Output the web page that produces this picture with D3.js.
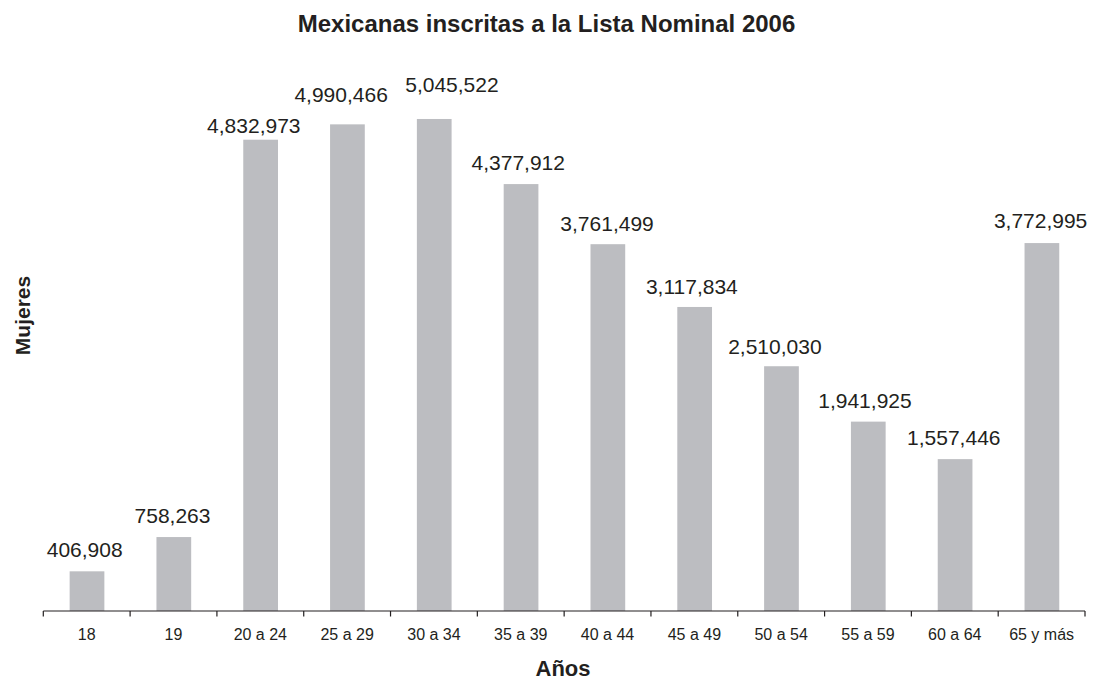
<!DOCTYPE html>
<html>
<head>
<meta charset="utf-8">
<script src="https://cdn.jsdelivr.net/npm/d3@7"></script>
<style>
  html, body { margin: 0; padding: 0; background: #fff; }
  svg { display: block; font-family: "Liberation Sans", Arial, sans-serif; }
</style>
</head>
<body>
<svg id="chart" width="1093" height="679"></svg>
<script>
// Age groups and registered women per group
const categories = ["18", "19", "20 a 24", "25 a 29", "30 a 34", "35 a 39",
                    "40 a 44", "45 a 49", "50 a 54", "55 a 59", "60 a 64", "65 y más"];
const mujeres = [406908, 758263, 4832973, 4990466, 5045522, 4377912,
                 3761499, 3117834, 2510030, 1941925, 1557446, 3772995];

// Per-label nudges [dx, rise above bar top to text middle]
const labelShift = [[-2, 22], [-1, 22], [-6.5, 14.5], [-6, 30], [18, 34.5], [-2.5, 21.3],
                    [-0.5, 21], [-2.5, 20.7], [-6.3, 19.7], [-3, 21.2], [-1, 21.2], [-1, 23]];

const svg = d3.select("#chart");
const textColor = "#231f20";
const barColor = "#bcbdc1";

const x = d3.scaleBand().domain(categories).range([43.3, 1085]).padding(0);
const y = d3.scaleLinear().domain([0, 6000000]).range([611, 25.9]);

const barW = x.bandwidth() * 0.4;
const fmt = d3.format(",");

// Bars
svg.append("g").selectAll("rect")
  .data(mujeres)
  .join("rect")
  .attr("x", (d, i) => x(categories[i]) + x.bandwidth() / 2 - barW / 2 + 0.3)
  .attr("y", d => y(d))
  .attr("width", barW)
  .attr("height", d => y(0) - y(d))
  .attr("fill", barColor);

// Value labels
svg.append("g").selectAll("text")
  .data(mujeres)
  .join("text")
  .attr("x", (d, i) => x(categories[i]) + x.bandwidth() / 2 + labelShift[i][0])
  .attr("y", (d, i) => y(d) - labelShift[i][1] + 7.5)
  .attr("text-anchor", "middle")
  .attr("font-size", 21)
  .attr("fill", textColor)
  .text(d => fmt(d));

// X axis: ticks on the category boundaries
const axis = svg.append("g").attr("transform", "translate(0,611)");
axis.append("line")
  .attr("x1", 43.3).attr("x2", 1085)
  .attr("stroke", "#231f20").attr("stroke-width", 1.2);
const bounds = categories.map(c => x(c)).concat([x(categories[categories.length - 1]) + x.bandwidth()]);
axis.selectAll("line.tick")
  .data(bounds)
  .join("line")
  .attr("class", "tick")
  .attr("x1", d => d).attr("x2", d => d)
  .attr("y1", 0).attr("y2", 5.5)
  .attr("stroke", "#231f20").attr("stroke-width", 1.2);
axis.selectAll("text")
  .data(categories)
  .join("text")
  .attr("x", d => x(d) + x.bandwidth() / 2)
  .attr("y", 29)
  .attr("text-anchor", "middle")
  .attr("font-size", 16)
  .attr("fill", textColor)
  .text(d => d);

// Titles
svg.append("text")
  .attr("x", 546.5).attr("y", 31.5)
  .attr("text-anchor", "middle")
  .attr("font-size", 24).attr("font-weight", "bold")
  .attr("fill", textColor)
  .text("Mexicanas inscritas a la Lista Nominal 2006");

svg.append("text")
  .attr("x", 563).attr("y", 675.5)
  .attr("text-anchor", "middle")
  .attr("font-size", 22).attr("font-weight", "bold")
  .attr("fill", textColor)
  .text("Años");

svg.append("text")
  .attr("transform", "translate(30,315.5) rotate(-90)")
  .attr("text-anchor", "middle")
  .attr("font-size", 21).attr("font-weight", "bold")
  .attr("fill", textColor)
  .text("Mujeres");
</script>
</body>
</html>
